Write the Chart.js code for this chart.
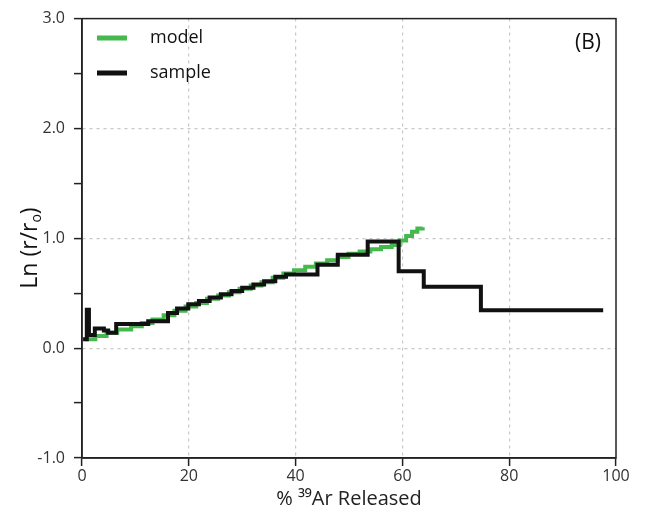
<!DOCTYPE html>
<html><head><meta charset="utf-8">
<script src="https://cdn.jsdelivr.net/npm/chart.js@4"></script>
<style>html,body{margin:0;padding:0;background:#fff}</style>
</head><body>
<canvas id="c" width="650" height="516"></canvas>
<script>
// ---- data ----
const seriesNames = ['model', 'sample'];
const modelX = [0.5, 2.5, 4.6, 6.6, 9.2, 11.2, 13.2, 15.3, 17.3, 19.4, 21.4, 23.4, 25.5, 27.5, 29.5, 31.6, 33.6, 35.7, 37.7, 39.7, 41.8, 43.8, 45.9, 47.9, 49.9, 52, 54, 56, 58, 59.5, 60.7, 61.8, 62.8, 63.8];
const modelY = [0.08, 0.11, 0.14, 0.17, 0.20, 0.23, 0.26, 0.30, 0.34, 0.38, 0.41, 0.45, 0.48, 0.51, 0.54, 0.57, 0.60, 0.64, 0.68, 0.71, 0.74, 0.77, 0.80, 0.83, 0.86, 0.88, 0.90, 0.92, 0.94, 0.98, 1.02, 1.06, 1.09, 1.10];
const sampleX = [0.2, 0.9, 1.3, 2.4, 4.1, 4.9, 6.4, 12.4, 16.1, 17.8, 19.9, 21.9, 23.9, 26, 28, 30, 32.1, 34.1, 36.2, 38.2, 44.1, 47.9, 53.5, 59.3, 64, 74.7, 97.6];
const sampleY = [0.08, 0.35, 0.12, 0.18, 0.16, 0.14, 0.22, 0.245, 0.32, 0.36, 0.40, 0.43, 0.46, 0.49, 0.52, 0.55, 0.58, 0.61, 0.65, 0.67, 0.76, 0.85, 0.97, 0.70, 0.56, 0.345, 0.345];
const xTickValues = [0, 20, 40, 60, 80, 100];
const yTickValues = [-1, 0, 1, 2, 3];
const xGridValues = [20, 40, 60, 80];
const yGridValues = [0, 1, 2];
const panelLabel = '(B)';
const xTitle = '% \u00B3\u2079Ar Released';
const yTitleParts = ['Ln (r/r', 'o', ')'];

// ---- styles ----
const FONT = '"Open Sans", "Liberation Sans", sans-serif';
const GREEN = '#45b84e';
const BLACK = '#111111';

const toPts = (xs, ys) => xs.map((x, i) => ({x, y: ys[i]}));

const overlay = {
  id: 'overlay',
  afterDraw(chart) {
    const {ctx, chartArea: a} = chart;
    ctx.save();
    ctx.setLineDash([]);
    // frame
    ctx.strokeStyle = '#222';
    ctx.lineWidth = 1.5;
    ctx.strokeRect(a.left, a.top, a.right - a.left, a.bottom - a.top);
    // legend (model first)
    const entries = [chart.data.datasets[1], chart.data.datasets[0]];
    entries.forEach((ds, i) => {
      const y = 38 + i * 35;
      ctx.fillStyle = ds.borderColor;
      ctx.fillRect(97, y - 2.5, 30, 5);
      ctx.fillStyle = '#111';
      ctx.font = '18px ' + FONT;
      ctx.textBaseline = 'middle';
      ctx.textAlign = 'left';
      ctx.fillText(ds.label, 150, y);
    });
    // panel label
    ctx.font = '21px ' + FONT;
    ctx.textAlign = 'right';
    ctx.fillText(panelLabel, 601, 43);
    // y title
    ctx.translate(30, 248);
    ctx.rotate(-Math.PI / 2);
    const big = '23px ' + FONT, small = '14px ' + FONT;
    ctx.font = big;
    const w0 = ctx.measureText(yTitleParts[0]).width;
    const w2 = ctx.measureText(yTitleParts[2]).width;
    ctx.font = small;
    const w1 = ctx.measureText(yTitleParts[1]).width;
    let x = -(w0 + w1 + w2) / 2;
    ctx.textAlign = 'left';
    ctx.textBaseline = 'middle';
    ctx.font = big;
    ctx.fillText(yTitleParts[0], x, 0); x += w0;
    ctx.font = small;
    ctx.fillText(yTitleParts[1], x, 7); x += w1;
    ctx.font = big;
    ctx.fillText(yTitleParts[2], x, 0);
    ctx.restore();
  }
};

new Chart(document.getElementById('c'), {
  type: 'line',
  data: {
    datasets: [
      {label: seriesNames[1], data: toPts(sampleX, sampleY), borderColor: BLACK, borderWidth: 4, borderDash: [], stepped: 'before', pointRadius: 0, fill: false},
      {label: seriesNames[0], data: toPts(modelX, modelY), borderColor: GREEN, borderWidth: 4, borderDash: [], stepped: 'before', pointRadius: 0, fill: false}
    ]
  },
  options: {
    responsive: false,
    animation: false,
    devicePixelRatio: 1,
    layout: {padding: {top: 17, right: 34, left: 0, bottom: 0}},
    plugins: {legend: {display: false}, tooltip: {enabled: false}},
    scales: {
      x: {
        type: 'linear', min: 0, max: 100,
        afterFit: s => { s.height = 58; },
        afterBuildTicks: s => { s.ticks = xTickValues.map(v => ({value: v})); },
        ticks: {font: {size: 16, family: FONT}, color: '#333', padding: 1, maxRotation: 0},
        grid: {
          color: c => (c.tick && xGridValues.includes(c.tick.value)) ? '#c8c8c8' : 'rgba(0,0,0,0)',
          lineWidth: 1.2, tickColor: '#222', tickLength: 8, tickWidth: 1.5
        },
        border: {display: true, color: '#222', width: 1.5, dash: [3, 4]},
        title: {display: true, text: xTitle, font: {size: 20, family: FONT}, color: '#222', padding: {top: 0, bottom: 5}}
      },
      y: {
        type: 'linear', min: -1, max: 3,
        afterFit: s => { s.width = 82; },
        ticks: {stepSize: 0.5, font: {size: 16, family: FONT}, color: '#333', padding: 9,
          callback: v => yTickValues.includes(v) ? v.toFixed(1) : ''},
        grid: {
          color: c => (c.tick && yGridValues.includes(c.tick.value)) ? '#c8c8c8' : 'rgba(0,0,0,0)',
          lineWidth: 1.2, tickColor: '#222', tickLength: 8, tickWidth: 1.5
        },
        border: {display: true, color: '#222', width: 1.5, dash: [3, 4]}
      }
    }
  },
  plugins: [overlay]
});
</script>
</body></html>
